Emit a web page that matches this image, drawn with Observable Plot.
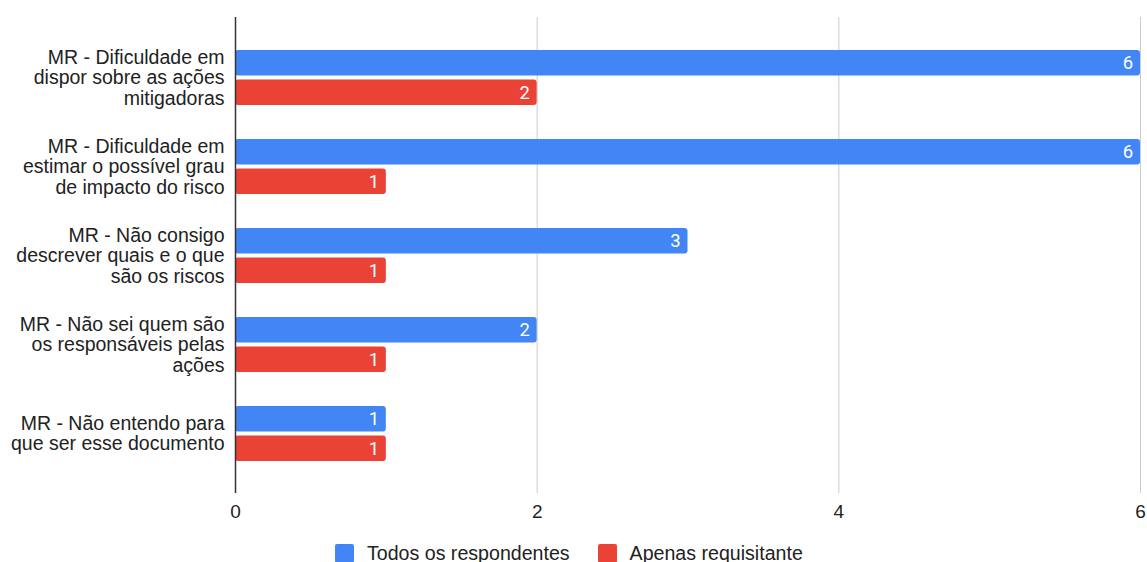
<!DOCTYPE html>
<html>
<head>
<meta charset="utf-8">
<script src="https://cdn.jsdelivr.net/npm/d3@7"></script>
<script src="https://cdn.jsdelivr.net/npm/@observablehq/plot@0.6"></script>
<style>
  body { margin: 0; background: #fff; font-family: "Liberation Sans", Arial, sans-serif; }
  #legend { display: flex; align-items: center; height: 20px; margin-top: 8px; padding-left: 335px; font-size: 19.6px; color: #222; }
  .item { display: flex; align-items: center; margin-right: 28px; }
  .sw { width: 19px; height: 19px; border-radius: 2px; margin-right: 13px; }
</style>
</head>
<body>
<div id="chart"></div>
<div id="legend"></div>
<script>
const categories = [
  "MR - Dificuldade em\ndispor sobre as ações\nmitigadoras",
  "MR - Dificuldade em\nestimar o possível grau\nde impacto do risco",
  "MR - Não consigo\ndescrever quais e o que\nsão os riscos",
  "MR - Não sei quem são\nos responsáveis pelas\nações",
  "MR - Não entendo para\nque ser esse documento"
];
const seriesNames = ["Todos os respondentes", "Apenas requisitante"];
const seriesColors = ["#4285F4", "#EA4335"];
const todos = [6, 6, 3, 2, 1];
const apenas = [2, 1, 1, 1, 1];
const xTicks = [0, 2, 4, 6];

const dTodos = categories.map((c, i) => ({category: c, value: todos[i]}));
const dApenas = categories.map((c, i) => ({category: c, value: apenas[i]}));

const W = 1147, H = 535;
const chart = Plot.plot({
  width: W,
  height: H,
  marginLeft: 235,
  marginRight: 7,
  marginTop: 17,
  marginBottom: H - 493,
  style: {fontFamily: "'Liberation Sans', Arial, sans-serif", fontSize: "19px", color: "#222"},
  x: {domain: [0, 6], ticks: xTicks},
  y: {type: "band", domain: categories, range: [32.5, 478], padding: 0},
  marks: [
    Plot.ruleX(xTicks.filter(t => t > 0), {stroke: "#ccc", strokeWidth: 1}),
    Plot.barX(dTodos, {x: "value", y: "category", fill: seriesColors[0], insetTop: 17, insetBottom: 46.5, rx: 3}),
    Plot.barX(dApenas, {x: "value", y: "category", fill: seriesColors[1], insetTop: 46.5, insetBottom: 17, rx: 3}),
    Plot.text(dTodos, {x: "value", y: "category", text: d => String(d.value), dy: -14.75, dx: -12.5, textAnchor: "middle", fill: "white", fontSize: 18.5, fontFamily: "Roboto, sans-serif"}),
    Plot.text(dApenas, {x: "value", y: "category", text: d => String(d.value), dy: 14.75, dx: -12.5, textAnchor: "middle", fill: "white", fontSize: 18.5, fontFamily: "Roboto, sans-serif"}),
    Plot.ruleX([0], {stroke: "#333", strokeWidth: 1.5}),
    Plot.axisX({ticks: xTicks, tickSize: 0, tickPadding: 11, fontSize: 19, label: null, tickFormat: d3.format("d")}),
    Plot.axisY({tickSize: 0, tickPadding: 11, fontSize: 19.5, lineHeight: 1.03, label: null, tickFormat: d => d})
  ]
});
document.getElementById("chart").appendChild(chart);

const legend = document.getElementById("legend");
seriesNames.forEach((name, i) => {
  const item = document.createElement("div");
  item.className = "item";
  const sw = document.createElement("div");
  sw.className = "sw";
  sw.style.background = seriesColors[i];
  const t = document.createElement("span");
  t.textContent = name;
  item.appendChild(sw);
  item.appendChild(t);
  legend.appendChild(item);
});
</script>
</body>
</html>
